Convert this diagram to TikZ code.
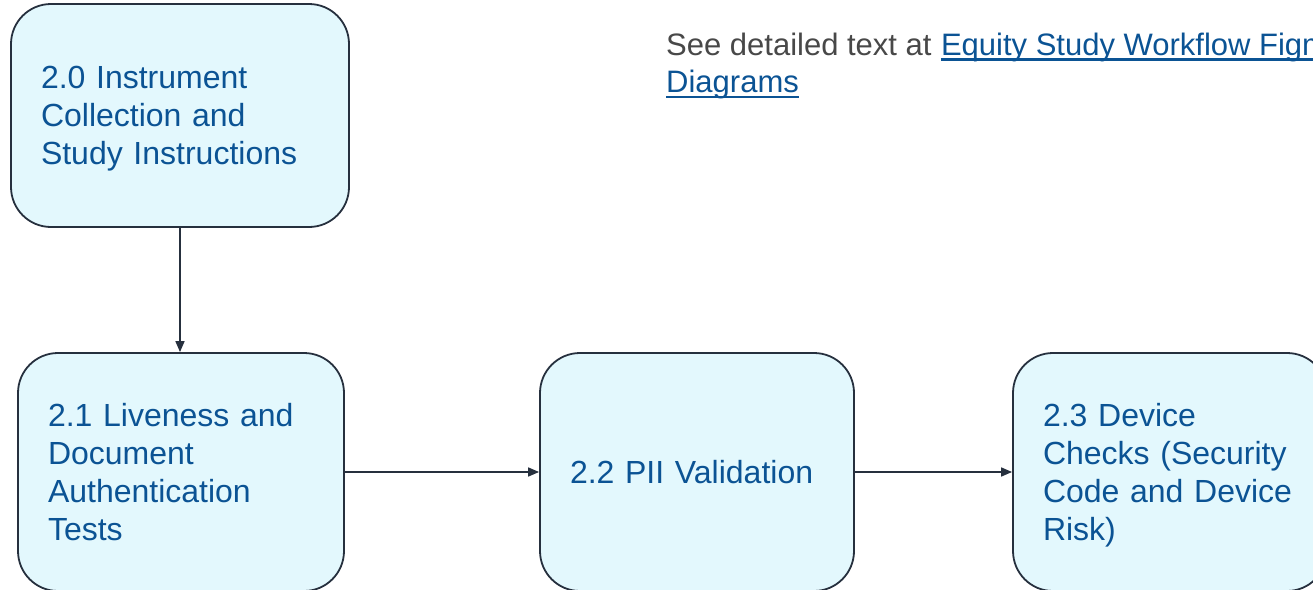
\documentclass[tikz,border=0pt]{standalone}
\usepackage{fontspec}
\setmainfont{Liberation Sans}
\usetikzlibrary{arrows.meta}
\definecolor{boxfill}{RGB}{227,248,253}
\definecolor{boxline}{RGB}{38,48,62}
\definecolor{txtblue}{RGB}{11,83,148}
\definecolor{txtgray}{RGB}{72,72,72}
\begin{document}
\begin{tikzpicture}[x=1pt,y=-1pt,
  stepbox/.style={draw=boxline, line width=1.8pt, fill=boxfill, rounded corners=40pt,
    inner xsep=30pt, inner ysep=0pt, align=left, text=txtblue,
    font=\fontsize{32}{38}\selectfont},
  flow/.style={draw=boxline, line width=1.6pt, -{Triangle[length=11pt,width=9pt]}},
  note/.style={inner sep=0pt, anchor=base west, font=\fontsize{31}{37}\selectfont},
  uline/.style={draw=txtblue, line width=2.4pt}]
\useasboundingbox (0,0) rectangle (1313,589);
\clip (0,0) rectangle (1313,589);
% boxes
\node[stepbox, minimum width=338pt, minimum height=223pt, text width=278pt] (b20) at (180,115.5)
  {2.0 Instrument\\Collection and\\\smash{Study Instructions}};
\node[stepbox, minimum width=326pt, minimum height=238pt, text width=266pt] (b21) at (181,472)
  {2.1 Liveness and\\Document\\Authentication\\\smash{Tests}};
\node[stepbox, minimum width=314pt, minimum height=238pt, text width=254pt] (b22) at (697,472)
  {2.2 PII Validation};
\node[stepbox, minimum width=314pt, minimum height=238pt, text width=254pt] (b23) at (1170,472)
  {2.3 Device\\Checks (Security\\Code and Device\\\smash{Risk)}};
% connectors
\draw[flow] (b20.south) -- (b20.south |- b21.north);
\draw[flow] (b21.east) -- (b22.west);
\draw[flow] (b22.east) -- (b23.west);
% note text
\node[note, text=txtgray] (see) at (666,55) {See detailed text at};
\node[note, text=txtblue] (link) at ([xshift=9pt]see.base east) {Equity Study Workflow Figma};
\node[note, text=txtblue] (diag) at (666,92) {Diagrams};
\draw[uline] ([yshift=-4.5pt]link.base west) -- ([yshift=-4.5pt]link.base east);
\draw[uline] ([yshift=-5pt]diag.base west) -- ([yshift=-5pt]diag.base east);
\end{tikzpicture}
\end{document}
